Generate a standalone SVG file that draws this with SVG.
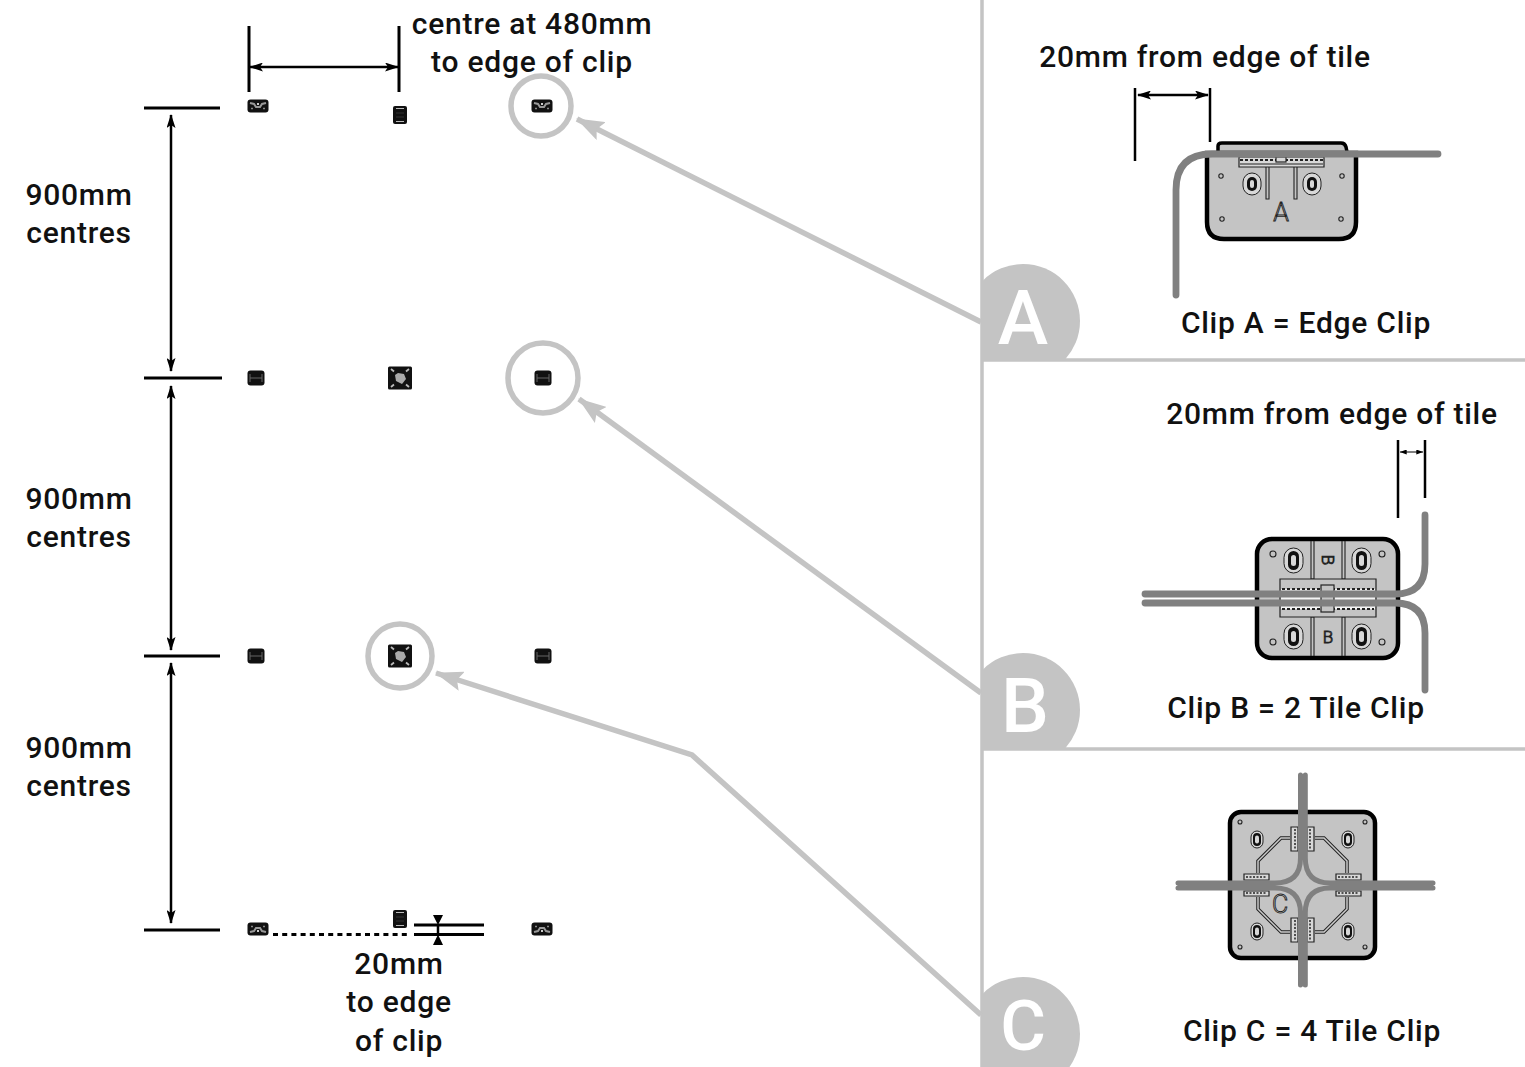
<svg xmlns="http://www.w3.org/2000/svg" width="1525" height="1067" viewBox="0 0 1525 1067">
<style>
text{font-family:"Roboto","Liberation Sans",sans-serif;font-size:30px;font-weight:500;fill:#111;text-anchor:middle;letter-spacing:.75px}
.ln{stroke:#000;stroke-width:3;fill:none}
.thin{stroke:#000;stroke-width:2.500;fill:none}
.gl{stroke:#c4c4c4;stroke-width:5.500;fill:none}
.sep{stroke:#c4c4c4;stroke-width:3.500;fill:none}
.ring{stroke:#c4c4c4;stroke-width:5.500;fill:#fff}
.body{fill:#c4c4c4;stroke:#000;stroke-width:4.500}
.wire{stroke:#808080;stroke-width:6.800;fill:none;stroke-linecap:round}
.wirec{stroke:#808080;stroke-width:5;fill:none;stroke-linecap:round}
.det{stroke:#222;stroke-width:1.100;fill:none}
.detf{stroke:#222;stroke-width:1.200;fill:#d8d8d8}
.teeth{stroke:#222;stroke-width:2.200;fill:none;stroke-dasharray:3 2}
.slot{fill:#d8d8d8;stroke:#222;stroke-width:1}
.slotb{fill:#111}
.hole{fill:#d8d8d8}
.badge{fill:#c4c4c4}
.blet{font-size:76px;font-weight:500;fill:#fff;letter-spacing:0}
.clet{font-size:25px;font-weight:300;fill:#d8d8d8;stroke:#222;stroke-width:.9;letter-spacing:0}
</style>
<defs>
<marker id="ah" viewBox="0 0 14 9" refX="13" refY="4.500" markerWidth="14" markerHeight="9" markerUnits="userSpaceOnUse" orient="auto-start-reverse"><path d="M0 0L14 4.500L0 9L3 4.500Z" fill="#000"/></marker>
<marker id="ahs" viewBox="0 0 8 6" refX="8" refY="3" markerWidth="8" markerHeight="5" markerUnits="userSpaceOnUse" orient="auto-start-reverse"><path d="M0 0L8 3L0 6Z" fill="#000"/></marker>
<marker id="ag" viewBox="0 0 28 20" refX="27" refY="10" markerWidth="28" markerHeight="20" markerUnits="userSpaceOnUse" orient="auto"><path d="M0 0L28 10L0 20L5 10Z" fill="#c4c4c4"/></marker>
<clipPath id="cA"><rect x="983" y="250" width="110" height="109"/></clipPath>
<clipPath id="cB"><rect x="983" y="640" width="110" height="108"/></clipPath>
<clipPath id="cC"><rect x="983" y="960" width="110" height="107"/></clipPath>
<g id="miniA"><rect x="-10.500" y="-6.500" width="21" height="13" rx="3" fill="#111"/><path d="M-8-3L-4-2L-2 1H2L4-2L8-3" stroke="#999" stroke-width="2" fill="none"/><rect x="-1" y="-3" width="2" height="2" fill="#ccc"/><path d="M-7 2.500H-5M5 2.500H7" stroke="#888" stroke-width="1.500"/></g>
<g id="miniT"><rect x="-7" y="-9" width="14" height="18" rx="2" fill="#111"/><path d="M-4-6.500H4M-4 6.500H4" stroke="#bbb" stroke-width="1"/><path d="M-4-2H4M-4 2H4" stroke="#333" stroke-width="1"/></g>
<g id="miniB"><rect x="-8.500" y="-7.500" width="17" height="15" rx="3" fill="#111"/><path d="M-6-4V4M6-4V4M-6 0H6" stroke="#666" stroke-width="1" fill="none"/></g>
<g id="miniC"><rect x="-12" y="-11.500" width="24" height="23" rx="1.500" fill="#111"/><path d="M-5-3L-2-5L4-4L6 1L2 6L-4 3Z" fill="#aaa"/><path d="M-9-9L-6-6.500M9-9L6-6.500M-9 9L-6 6.500M9 9L6 6.500" stroke="#bbb" stroke-width="1.800"/></g>
</defs>
<g id="panels">
<path class="sep" d="M982 0V1067M982 360H1525M982 749H1525"/>
<g clip-path="url(#cA)"><circle class="badge" cx="1023" cy="321" r="57"/></g>
<g clip-path="url(#cB)"><circle class="badge" cx="1023" cy="710" r="57"/></g>
<g clip-path="url(#cC)"><circle class="badge" cx="1023" cy="1034" r="57"/></g>
<text class="blet" x="1023" y="344">A</text>
<text class="blet" x="1025" y="732">B</text>
<text class="blet" style="font-size:70px" x="1023" y="1050">C</text>
</g>
<g id="connectors">
<path class="gl" d="M981 322L577 119" marker-end="url(#ag)"/>
<path class="gl" d="M981 693L579 399" marker-end="url(#ag)"/>
<path class="gl" d="M981 1015L692 755L436 673" marker-end="url(#ag)"/>
<path class="ln" d="M144 108H220M144 378H222M144 656H220M144 930H220"/>
<path class="thin" d="M171 115V371" marker-start="url(#ah)" marker-end="url(#ah)"/>
<path class="thin" d="M171 386V650" marker-start="url(#ah)" marker-end="url(#ah)"/>
<path class="thin" d="M171 663V923" marker-start="url(#ah)" marker-end="url(#ah)"/>
<path class="ln" d="M249 26V92M399 26V92"/>
<path class="thin" d="M250 67H398" marker-start="url(#ah)" marker-end="url(#ah)"/>
<path d="M273 934.500H410" stroke="#000" stroke-width="3" stroke-dasharray="5 4.200"/>
<path class="ln" d="M414 925H484M414 934.500H484"/>
<path d="M433 915H443L438 925ZM433 945H443L438 934.500Z" fill="#000"/>
<path class="thin" d="M438 925V935"/>
<path class="thin" d="M1135 88V161M1210 88V142"/>
<path class="thin" d="M1138 95H1208" marker-start="url(#ah)" marker-end="url(#ah)"/>
<path class="thin" d="M1398 440V518M1425 440V498"/>
<path stroke="#000" stroke-width="1" fill="none" d="M1400 452H1423" marker-start="url(#ahs)" marker-end="url(#ahs)"/>
</g>
<g id="ring-a"><circle class="ring" cx="541" cy="106" r="30"/></g>
<g id="ring-b"><circle class="ring" cx="543" cy="378" r="35"/></g>
<g id="ring-c"><circle class="ring" cx="400" cy="656" r="32"/></g>
<g id="mini-clips">
<use id="m1" href="#miniA" x="258" y="106"/>
<use id="m2" href="#miniT" x="400" y="115"/>
<use id="m3" href="#miniA" x="542" y="106"/>
<use id="m4" href="#miniB" x="256" y="378"/>
<use id="m5" href="#miniC" x="400" y="378"/>
<use id="m6" href="#miniB" x="543" y="378"/>
<use id="m7" href="#miniB" x="256" y="656"/>
<use id="m8" href="#miniC" x="400" y="656"/>
<use id="m9" href="#miniB" x="543" y="656"/>
<use id="m10" href="#miniA" transform="translate(258 929) scale(1 -1)"/>
<use id="m11" href="#miniT" x="400" y="919"/>
<use id="m12" href="#miniA" transform="translate(542 929) scale(1 -1)"/>
</g>
<g id="clip-a">
<path d="M1218 152V146Q1218 143 1222 143H1341Q1345 143 1346 147L1347 152" fill="#c4c4c4" stroke="#000" stroke-width="3.500"/>
<path class="body" d="M1207 153H1356V222Q1356 239 1339 239H1224Q1207 239 1207 222Z"/>
<path class="detf" d="M1239 157H1324V167H1239Z"/>
<path class="teeth" d="M1240 160H1323"/>
<path class="det" d="M1240 164H1323M1266 167V199H1269V167M1294 167V199H1297V167"/>
<rect class="detf" x="1276" y="157" width="10" height="5"/>
<g class="det"><circle cx="1221" cy="176" r="2.200"/><circle cx="1342" cy="176" r="2.200"/><circle cx="1222" cy="219" r="2.200"/><circle cx="1341" cy="219" r="2.200"/></g>
<rect class="slot" x="1243" y="173" width="18" height="22" rx="9"/><rect class="slotb" x="1247" y="177" width="10" height="14" rx="5"/><rect x="1250" y="180" width="4" height="8" rx="2" class="hole"/>
<rect class="slot" x="1303" y="173" width="18" height="22" rx="9"/><rect class="slotb" x="1307" y="177" width="10" height="14" rx="5"/><rect x="1310" y="180" width="4" height="8" rx="2" class="hole"/>
<text class="clet" x="1281" y="221">A</text>
<path class="wire" d="M1176 295V190Q1176 154 1212 154H1438"/>
</g>
<g id="clip-b">
<rect class="body" x="1257" y="539" width="141" height="119" rx="15"/>
<path class="det" d="M1311 541V579H1314V541M1342 541V579H1345V541M1311 656V617H1314V656M1342 656V617H1345V656"/>
<path class="detf" d="M1280 579H1376V617H1280Z" style="fill:#c4c4c4"/>
<rect x="1281" y="589" width="94" height="20" fill="#f4f4f4"/>
<path class="teeth" d="M1282 589H1374M1282 609H1374"/>
<rect class="detf" x="1321" y="585" width="13" height="27" style="fill:#c4c4c4"/>
<g class="det"><circle cx="1273" cy="554" r="3"/><circle cx="1382" cy="554" r="3"/><circle cx="1273" cy="642" r="3"/><circle cx="1382" cy="642" r="3"/></g>
<rect class="slot" x="1284" y="548" width="19" height="25" rx="9.500"/><rect class="slotb" x="1288" y="551" width="11" height="19" rx="5.500"/><rect x="1291" y="555" width="5" height="11" rx="2.500" class="hole"/>
<rect class="slot" x="1352" y="548" width="19" height="25" rx="9.500"/><rect class="slotb" x="1356" y="551" width="11" height="19" rx="5.500"/><rect x="1359" y="555" width="5" height="11" rx="2.500" class="hole"/>
<rect class="slot" x="1284" y="624" width="19" height="25" rx="9.500"/><rect class="slotb" x="1288" y="627" width="11" height="19" rx="5.500"/><rect x="1291" y="631" width="5" height="11" rx="2.500" class="hole"/>
<rect class="slot" x="1352" y="624" width="19" height="25" rx="9.500"/><rect class="slotb" x="1356" y="627" width="11" height="19" rx="5.500"/><rect x="1359" y="631" width="5" height="11" rx="2.500" class="hole"/>
<text class="clet" style="font-size:17px" x="1328" y="643">B</text>
<text class="clet" style="font-size:17px" transform="translate(1328 560) rotate(90)" y="6">B</text>
<path class="wire" d="M1145 594H1395Q1425 594 1425 564V515"/>
<path class="wire" d="M1145 603H1395Q1425 603 1425 633V690"/>
</g>
<g id="clip-c">
<rect class="body" x="1230" y="812" width="145" height="146" rx="11"/>
<g class="det"><circle cx="1240" cy="822" r="2"/><circle cx="1365" cy="822" r="2"/><circle cx="1240" cy="947" r="2"/><circle cx="1365" cy="947" r="2"/></g>
<path d="M1290 838H1281L1258 861V873M1315 838H1324L1347 861V873M1290 932H1281L1258 909V897M1315 932H1324L1347 909V897" stroke="#222" stroke-width="3.500" fill="none"/>
<path d="M1290 838H1281L1258 861V873M1315 838H1324L1347 861V873M1290 932H1281L1258 909V897M1315 932H1324L1347 909V897" stroke="#ccc" stroke-width="1.500" fill="none"/>
<path class="detf" d="M1291 827H1298V851H1291ZM1307 827H1314V851H1307ZM1291 918H1298V942H1291ZM1307 918H1314V942H1307ZM1244 874H1269V880H1244ZM1336 874H1361V880H1336ZM1244 891H1269V896H1244ZM1336 891H1361V896H1336Z" stroke-width="1.500"/>
<path class="teeth" style="stroke-width:1.500;stroke-dasharray:2 1.500" d="M1295 829V849M1310 829V849M1295 920V940M1310 920V940M1246 877H1267M1338 877H1359M1246 893H1267M1338 893H1359"/>
<rect class="slot" x="1251" y="831" width="12" height="17" rx="6"/><rect class="slotb" x="1253" y="833" width="8" height="13" rx="4"/><rect x="1255" y="835.500" width="4" height="8" rx="2" class="hole"/>
<rect class="slot" x="1342" y="831" width="12" height="17" rx="6"/><rect class="slotb" x="1344" y="833" width="8" height="13" rx="4"/><rect x="1346" y="835.500" width="4" height="8" rx="2" class="hole"/>
<rect class="slot" x="1251" y="923" width="12" height="17" rx="6"/><rect class="slotb" x="1253" y="925" width="8" height="13" rx="4"/><rect x="1255" y="927.500" width="4" height="8" rx="2" class="hole"/>
<rect class="slot" x="1342" y="923" width="12" height="17" rx="6"/><rect class="slotb" x="1344" y="925" width="8" height="13" rx="4"/><rect x="1346" y="927.500" width="4" height="8" rx="2" class="hole"/>
<text class="clet" x="1280" y="913">C</text>
<path class="wirec" d="M1300.500 775V858Q1300.500 883 1275 883H1178M1305.300 775V858Q1305.300 883 1330 883H1433M1300.500 985V913Q1300.500 888 1275 888H1178M1305.300 985V913Q1305.300 888 1330 888H1433"/>
</g>
<g id="labels">
<text x="532" y="34">centre at 480mm</text>
<text x="532" y="72">to edge of clip</text>
<text x="79" y="205">900mm</text>
<text x="79" y="243">centres</text>
<text x="79" y="509">900mm</text>
<text x="79" y="547">centres</text>
<text x="79" y="758">900mm</text>
<text x="79" y="796">centres</text>
<text x="399" y="974">20mm</text>
<text x="399" y="1012">to edge</text>
<text x="399" y="1051">of clip</text>
<text x="1205" y="67">20mm from edge of tile</text>
<text x="1306" y="333">Clip A = Edge Clip</text>
<text x="1332" y="424">20mm from edge of tile</text>
<text x="1296" y="718">Clip B = 2 Tile Clip</text>
<text x="1312" y="1041">Clip C = 4 Tile Clip</text>
</g>
</svg>
